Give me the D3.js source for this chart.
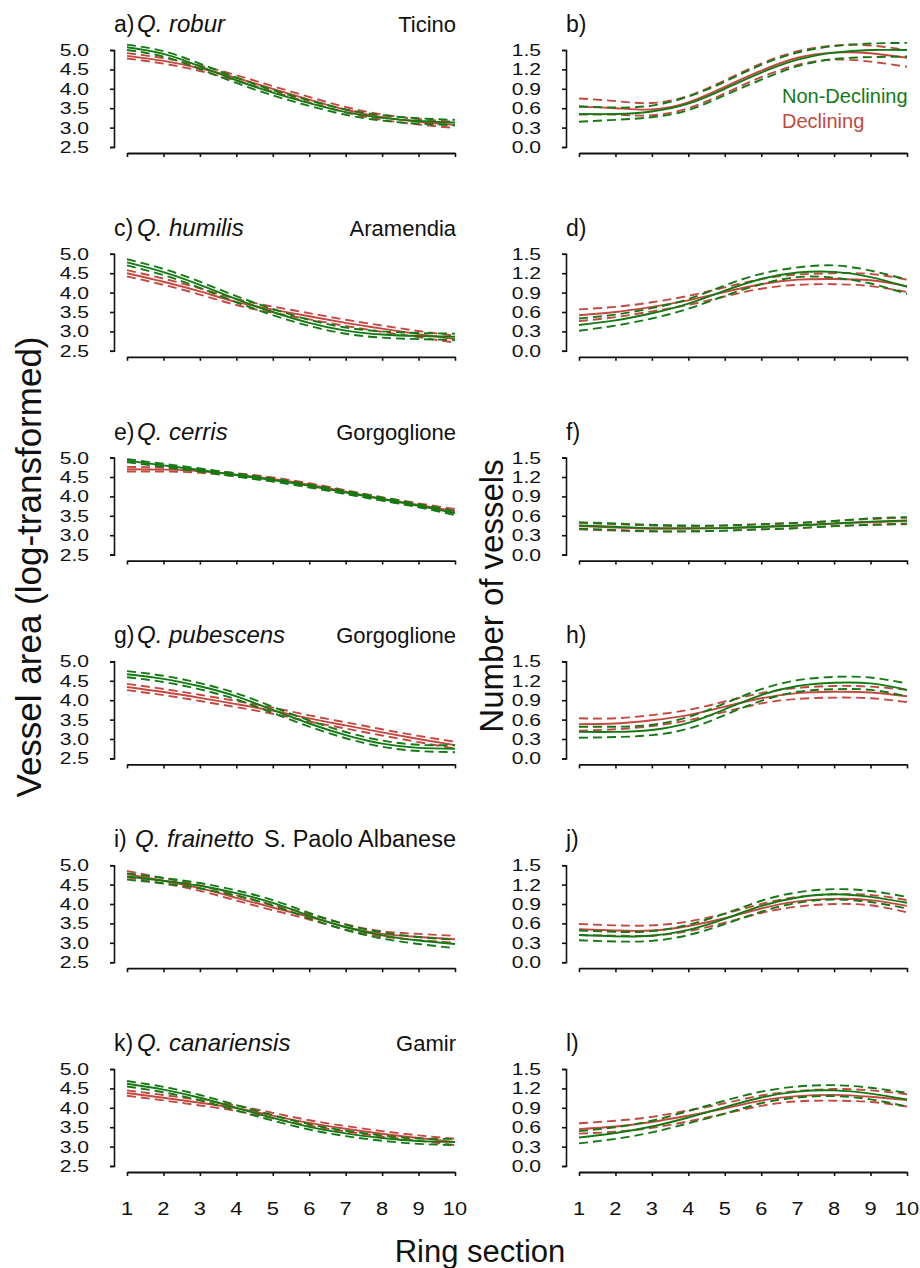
<!DOCTYPE html>
<html><head><meta charset="utf-8">
<script src="https://cdn.jsdelivr.net/npm/d3@7"></script>
<style>body{margin:0;background:#fff}svg{display:block}text{font-family:"Liberation Sans",Arial,sans-serif;fill:#111}</style>
</head><body>
<script>
// ---------- data ----------
const ringSection = [1,2,3,4,5,6,7,8,9,10];
const areaTicks = [2.5,3.0,3.5,4.0,4.5,5.0];
const countTicks = [0.0,0.3,0.6,0.9,1.2,1.5];
const panelLetters = ["a)","b)","c)","d)","e)","f)","g)","h)","i)","j)","k)","l)"];
const species = ["Q. robur","Q. humilis","Q. cerris","Q. pubescens","Q. frainetto","Q. canariensis"];
const sites = ["Ticino","Aramendia","Gorgoglione","Gorgoglione","S. Paolo Albanese","Gamir"];
const seriesNames = ["Non-Declining","Declining"];

// vessel area (left column); ND = Non-Declining, D = Declining
const a_ND=[5.07,4.90,4.58,4.22,3.90,3.63,3.40,3.25,3.17,3.13];
const a_ND_lo=[5.00,4.83,4.51,4.15,3.83,3.56,3.33,3.18,3.10,3.06];
const a_ND_hi=[5.14,4.97,4.65,4.29,3.97,3.70,3.47,3.32,3.24,3.20];
const a_D=[4.85,4.72,4.53,4.28,4.00,3.72,3.46,3.27,3.15,3.07];
const a_D_lo=[4.78,4.65,4.46,4.21,3.93,3.65,3.39,3.20,3.08,2.99];
const a_D_hi=[4.92,4.79,4.60,4.35,4.07,3.79,3.53,3.34,3.22,3.15];

const c_ND=[4.78,4.53,4.20,3.83,3.50,3.22,3.02,2.92,2.88,2.86];
const c_ND_lo=[4.70,4.45,4.12,3.75,3.42,3.14,2.94,2.84,2.80,2.78];
const c_ND_hi=[4.86,4.61,4.28,3.91,3.58,3.30,3.10,3.00,2.96,2.94];
const c_D=[4.50,4.28,4.03,3.76,3.56,3.39,3.22,3.07,2.93,2.80];
const c_D_lo=[4.42,4.20,3.95,3.68,3.48,3.31,3.14,2.99,2.85,2.71];
const c_D_hi=[4.58,4.36,4.11,3.84,3.64,3.47,3.30,3.15,3.01,2.89];

const e_ND=[4.92,4.80,4.68,4.55,4.42,4.27,4.10,3.93,3.76,3.57];
const e_ND_lo=[4.88,4.76,4.64,4.51,4.38,4.23,4.06,3.89,3.72,3.52];
const e_ND_hi=[4.96,4.84,4.72,4.59,4.46,4.31,4.14,3.97,3.80,3.62];
const e_D=[4.70,4.69,4.65,4.56,4.45,4.30,4.12,3.94,3.78,3.62];
const e_D_lo=[4.64,4.64,4.61,4.52,4.41,4.26,4.08,3.90,3.74,3.57];
const e_D_hi=[4.76,4.74,4.69,4.60,4.49,4.34,4.16,3.98,3.82,3.67];

const g_ND=[4.67,4.55,4.36,4.10,3.75,3.40,3.10,2.88,2.77,2.75];
const g_ND_lo=[4.59,4.47,4.28,4.02,3.67,3.32,3.02,2.80,2.69,2.66];
const g_ND_hi=[4.75,4.63,4.44,4.18,3.83,3.48,3.18,2.96,2.85,2.84];
const g_D=[4.34,4.21,4.06,3.90,3.73,3.53,3.35,3.17,3.00,2.84];
const g_D_lo=[4.26,4.13,3.98,3.82,3.65,3.45,3.27,3.09,2.92,2.75];
const g_D_hi=[4.42,4.29,4.14,3.98,3.81,3.61,3.43,3.25,3.08,2.93];

const i_ND=[4.71,4.60,4.47,4.28,4.03,3.70,3.40,3.19,3.06,2.97];
const i_ND_lo=[4.63,4.53,4.40,4.21,3.96,3.63,3.33,3.11,2.97,2.86];
const i_ND_hi=[4.79,4.67,4.54,4.35,4.10,3.77,3.47,3.27,3.15,3.08];
const i_D=[4.77,4.60,4.41,4.16,3.91,3.67,3.41,3.23,3.15,3.09];
const i_D_lo=[4.69,4.53,4.34,4.09,3.84,3.60,3.34,3.16,3.07,3.00];
const i_D_hi=[4.85,4.67,4.48,4.23,3.98,3.74,3.48,3.30,3.23,3.18];

const k_ND=[4.62,4.47,4.26,4.00,3.74,3.51,3.34,3.22,3.14,3.12];
const k_ND_lo=[4.55,4.40,4.19,3.93,3.67,3.44,3.27,3.15,3.07,3.04];
const k_ND_hi=[4.69,4.54,4.33,4.07,3.81,3.58,3.41,3.29,3.21,3.20];
const k_D=[4.38,4.26,4.13,3.99,3.80,3.61,3.46,3.33,3.22,3.12];
const k_D_lo=[4.31,4.19,4.06,3.92,3.73,3.54,3.39,3.26,3.15,3.04];
const k_D_hi=[4.45,4.33,4.20,4.06,3.87,3.68,3.53,3.40,3.29,3.20];

// number of vessels (right column)
const b_ND=[0.51,0.51,0.55,0.67,0.90,1.15,1.35,1.46,1.50,1.50];
const b_ND_lo=[0.39,0.42,0.46,0.57,0.80,1.04,1.25,1.36,1.39,1.40];
const b_ND_hi=[0.63,0.61,0.64,0.78,1.01,1.27,1.46,1.56,1.60,1.61];
const b_D=[0.62,0.60,0.58,0.69,0.93,1.18,1.38,1.46,1.45,1.38];
const b_D_lo=[0.50,0.50,0.49,0.60,0.83,1.08,1.27,1.35,1.32,1.24];
const b_D_hi=[0.75,0.71,0.68,0.79,1.03,1.29,1.48,1.57,1.57,1.50];

const d_ND=[0.40,0.47,0.58,0.73,0.93,1.11,1.21,1.22,1.14,0.99];
const d_ND_lo=[0.31,0.39,0.50,0.65,0.85,1.03,1.14,1.13,1.04,0.88];
const d_ND_hi=[0.50,0.56,0.66,0.80,1.01,1.19,1.29,1.32,1.24,1.10];
const d_D=[0.55,0.60,0.68,0.78,0.91,1.03,1.10,1.11,1.09,1.00];
const d_D_lo=[0.46,0.52,0.61,0.71,0.84,0.96,1.02,1.03,1.00,0.91];
const d_D_hi=[0.64,0.68,0.75,0.85,0.98,1.11,1.18,1.20,1.19,1.10];

const f_ND=[0.45,0.43,0.41,0.41,0.41,0.43,0.45,0.48,0.51,0.53];
const f_ND_lo=[0.40,0.38,0.36,0.36,0.37,0.39,0.41,0.44,0.46,0.48];
const f_ND_hi=[0.50,0.48,0.46,0.45,0.45,0.47,0.49,0.52,0.56,0.58];
const f_D=[0.44,0.42,0.40,0.40,0.41,0.43,0.45,0.48,0.50,0.52];
const f_D_lo=[0.39,0.37,0.36,0.36,0.37,0.39,0.41,0.44,0.46,0.47];
const f_D_hi=[0.49,0.47,0.45,0.44,0.45,0.47,0.49,0.52,0.55,0.57];

const h_ND=[0.41,0.41,0.44,0.55,0.76,0.98,1.12,1.17,1.16,1.06];
const h_ND_lo=[0.32,0.33,0.36,0.46,0.67,0.89,1.03,1.07,1.06,0.96];
const h_ND_hi=[0.49,0.49,0.52,0.64,0.85,1.07,1.21,1.26,1.25,1.16];
const h_D=[0.53,0.54,0.59,0.67,0.80,0.93,1.01,1.03,1.02,0.96];
const h_D_lo=[0.43,0.45,0.50,0.59,0.72,0.85,0.92,0.94,0.93,0.87];
const h_D_hi=[0.62,0.62,0.67,0.75,0.88,1.01,1.09,1.12,1.11,1.06];

const j_ND=[0.42,0.40,0.41,0.50,0.67,0.87,1.00,1.05,1.01,0.92];
const j_ND_lo=[0.34,0.32,0.33,0.42,0.59,0.78,0.92,0.97,0.93,0.83];
const j_ND_hi=[0.49,0.47,0.48,0.58,0.75,0.95,1.08,1.13,1.10,1.01];
const j_D=[0.51,0.49,0.49,0.56,0.68,0.83,0.94,0.98,0.96,0.87];
const j_D_lo=[0.42,0.41,0.41,0.48,0.61,0.76,0.86,0.90,0.88,0.77];
const j_D_hi=[0.59,0.57,0.57,0.63,0.75,0.90,1.01,1.05,1.04,0.96];

const l_ND=[0.44,0.51,0.61,0.75,0.91,1.06,1.15,1.17,1.12,1.03];
const l_ND_lo=[0.35,0.42,0.52,0.66,0.81,0.97,1.06,1.08,1.03,0.92];
const l_ND_hi=[0.54,0.60,0.70,0.85,1.01,1.15,1.23,1.25,1.21,1.13];
const l_D=[0.57,0.61,0.68,0.78,0.89,1.01,1.08,1.10,1.07,1.02];
const l_D_lo=[0.50,0.53,0.59,0.69,0.81,0.93,1.00,1.01,0.99,0.92];
const l_D_hi=[0.66,0.70,0.76,0.86,0.97,1.09,1.16,1.19,1.17,1.11];

const leftPanels = [
  {ND:[a_ND,a_ND_lo,a_ND_hi], D:[a_D,a_D_lo,a_D_hi]},
  {ND:[c_ND,c_ND_lo,c_ND_hi], D:[c_D,c_D_lo,c_D_hi]},
  {ND:[e_ND,e_ND_lo,e_ND_hi], D:[e_D,e_D_lo,e_D_hi]},
  {ND:[g_ND,g_ND_lo,g_ND_hi], D:[g_D,g_D_lo,g_D_hi]},
  {ND:[i_ND,i_ND_lo,i_ND_hi], D:[i_D,i_D_lo,i_D_hi]},
  {ND:[k_ND,k_ND_lo,k_ND_hi], D:[k_D,k_D_lo,k_D_hi]}
];
const rightPanels = [
  {ND:[b_ND,b_ND_lo,b_ND_hi], D:[b_D,b_D_lo,b_D_hi]},
  {ND:[d_ND,d_ND_lo,d_ND_hi], D:[d_D,d_D_lo,d_D_hi]},
  {ND:[f_ND,f_ND_lo,f_ND_hi], D:[f_D,f_D_lo,f_D_hi]},
  {ND:[h_ND,h_ND_lo,h_ND_hi], D:[h_D,h_D_lo,h_D_hi]},
  {ND:[j_ND,j_ND_lo,j_ND_hi], D:[j_D,j_D_lo,j_D_hi]},
  {ND:[l_ND,l_ND_lo,l_ND_hi], D:[l_D,l_D_lo,l_D_hi]}
];

// ---------- layout ----------
const W=920,H=1268;
const GREEN="#137a13", RED="#c54840";
const rowTop0=50, rowStep=203.8, plotH=97, xAxisOff=103;
const cols=[
  {axisX:114, x0:127, x1:455, domain:[2.5,5.0], ticks:areaTicks, panels:leftPanels},
  {axisX:566, x0:579, x1:907, domain:[0.0,1.5], ticks:countTicks, panels:rightPanels}
];

const svg=d3.select("body").append("svg").attr("width",W).attr("height",H);
const fmt=d3.format(".1f");

cols.forEach((col,ci)=>{
  const x=d3.scaleLinear().domain([1,10]).range([col.x0,col.x1]);
  col.panels.forEach((p,ri)=>{
    const top=rowTop0+ri*rowStep;
    const y=d3.scaleLinear().domain(col.domain).range([top+plotH,top]);
    const g=svg.append("g");
    // y axis
    const ya=g.append("g").attr("transform",`translate(${col.axisX},0)`)
      .call(d3.axisLeft(y).tickValues(col.ticks).tickSize(4).tickSizeOuter(4).tickFormat(""));
    ya.select(".domain").attr("stroke","#111").attr("stroke-width",1.6);
    ya.selectAll(".tick line").attr("stroke","#111").attr("stroke-width",1.6);
    col.ticks.forEach(t=>{
      g.append("text").attr("transform",`translate(${col.axisX-25},${y(t)}) scale(1.28,1)`)
        .attr("text-anchor","end").attr("dy","0.36em").attr("font-size",16.5).text(fmt(t));
    });
    // x axis
    const xa=g.append("g").attr("transform",`translate(0,${top+xAxisOff})`)
      .call(d3.axisBottom(x).tickValues(ringSection).tickSize(4).tickSizeOuter(0).tickFormat(""));
    xa.select(".domain").attr("stroke","#111").attr("stroke-width",1.8);
    xa.selectAll(".tick line").attr("stroke","#111").attr("stroke-width",1.6);
    if(ri===5){
      ringSection.forEach(v=>{
        g.append("text").attr("transform",`translate(${x(v)},${top+xAxisOff+43}) scale(1.15,1)`)
          .attr("text-anchor","middle").attr("font-size",19).text(v);
      });
    }
    // curves
    const line=d3.line().x((d,i)=>x(ringSection[i])).y(d=>y(d)).curve(d3.curveNatural);
    [["D",RED],["ND",GREEN]].forEach(([k,colr])=>{
      const [m,lo,hi]=p[k];
      [lo,hi].forEach(s=>g.append("path").attr("d",line(s)).attr("fill","none")
        .attr("stroke",colr).attr("stroke-width",1.9).attr("stroke-dasharray","9,5"));
      g.append("path").attr("d",line(m)).attr("fill","none").attr("stroke",colr).attr("stroke-width",1.9);
    });
    // titles
    const letter=panelLetters[ri*2+ci];
    g.append("text").attr("x",col.axisX).attr("y",top-18).attr("font-size",23).text(letter);
    if(ci===0){
      g.append("text").attr("x",ri===4?135:137).attr("y",top-18).attr("font-size",24).attr("font-style","italic").text(species[ri]);
      g.append("text").attr("x",456).attr("y",top-18).attr("font-size",ri===4?23.5:22).attr("text-anchor","end").text(sites[ri]);
    }
  });
});

// legend
svg.append("text").attr("x",782).attr("y",103).attr("font-size",20).style("fill",GREEN).text(seriesNames[0]);
svg.append("text").attr("x",782).attr("y",128).attr("font-size",20).style("fill",RED).text(seriesNames[1]);

// axis titles
svg.append("text").attr("transform","translate(41,567) rotate(-90)").attr("text-anchor","middle")
  .attr("font-size",35).text("Vessel area (log-transformed)");
svg.append("text").attr("transform","translate(503,596) rotate(-90)").attr("text-anchor","middle")
  .attr("font-size",33).text("Number of vessels");
svg.append("text").attr("x",480).attr("y",1262).attr("text-anchor","middle").attr("font-size",31).text("Ring section");
</script>
</body></html>
